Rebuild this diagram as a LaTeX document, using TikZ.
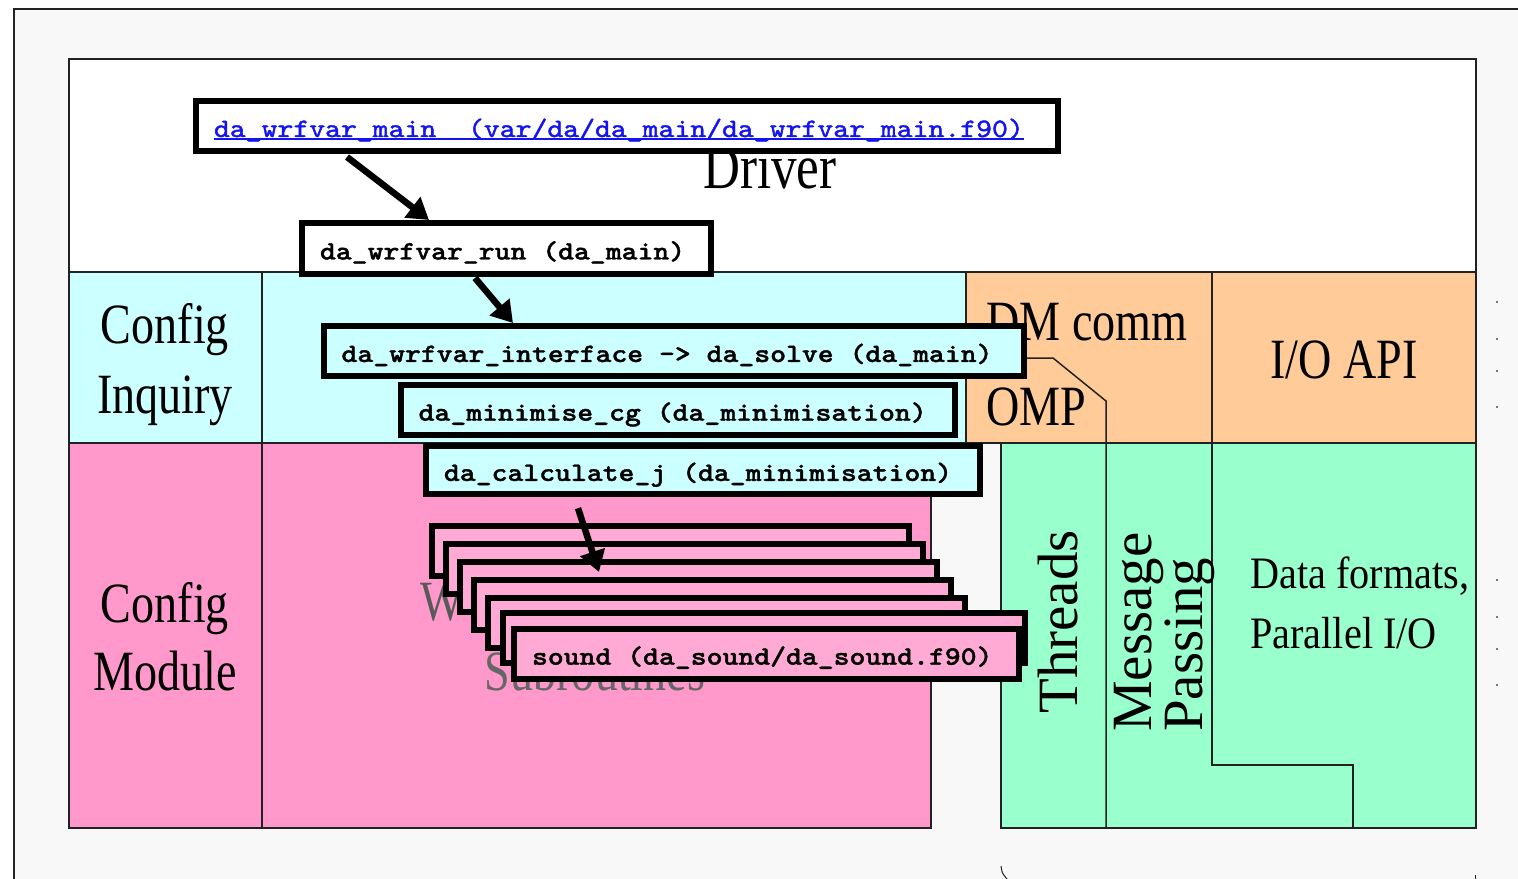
\documentclass[tikz,border=0pt]{standalone}
\usepackage{fontspec}
\usepackage{graphicx}
\setmainfont{Liberation Serif}
\newfontfamily\codefam{lmmonolt10-bold.otf}[FakeBold=1.2]
\newfontfamily\linkfam{lmmono10-regular.otf}[FakeBold=1.5]
\usetikzlibrary{arrows.meta,calc}
\definecolor{bgc}{HTML}{F8F8F8}
\definecolor{cyanc}{HTML}{CCFFFF}
\definecolor{orangec}{HTML}{FFCC99}
\definecolor{pinkc}{HTML}{FF99CC}
\definecolor{greenc}{HTML}{99FFCC}
\definecolor{stackc}{HTML}{FFAAD5}
\definecolor{linkc}{HTML}{1414F0}
\definecolor{linec}{HTML}{222222}
\newcommand{\msp}{\hspace*{0.525em}}
\newcommand{\codetext}[1]{\scalebox{1.14}[1]{\fontsize{15.1}{18}\selectfont\codefam #1}}
\newcommand{\linktext}[1]{\sbox0{\scalebox{1.14}[1]{\fontsize{15.1}{18}\selectfont\linkfam #1}}\rlap{\rule[-0.065cm]{\wd0}{0.04cm}}\usebox0}
\tikzset{
  region/.style={draw=linec, line width=0.03cm},
  lbl/.style={font=\fontsize{32.4}{39.8}\selectfont, xscale=0.81, inner sep=0, align=center},
  rlbl/.style={font=\fontsize{32.4}{28.5}\selectfont, rotate=90, inner sep=0, align=left},
  codebox/.style={draw=black, line width=0.12cm, anchor=north west, inner xsep=0.36cm, inner ysep=0,
    align=left, text height=0.48cm, text depth=0.04cm, minimum height=1cm},
  stackbox/.style={codebox, fill=stackc, minimum width=9.54cm},
  arr/.style={line width=0.13cm, -{Triangle[length=0.42cm, width=0.5cm]}}
}
\begin{document}
\begin{tikzpicture}[x=0.02cm, y=-0.02cm]
\useasboundingbox (0,0) rectangle (1518,879);
\fill[white] (0,0) rectangle (1518,879);
\fill[bgc] (14,9) rectangle (1518,879);
\draw[linec, line width=0.03cm] (14,879) -- (14,9) -- (1518,9);
% regions
\draw[region, line width=0.04cm, fill=white] (69,59) rectangle (1476,272);
\draw[region, fill=cyanc] (69,272) rectangle (262,443);
\draw[region, fill=cyanc] (262,272) rectangle (966,443);
\draw[region, fill=orangec] (966,272) rectangle (1212,443);
\draw[region, fill=orangec] (1212,272) rectangle (1476,443);
\draw[region, fill=pinkc] (69,443) rectangle (262,828);
\draw[region, fill=pinkc] (262,443) rectangle (931,828);
\draw[region, fill=greenc] (1001,443) rectangle (1476,828);
\draw[region] (1020,358) -- (1053,358) -- (1106,401) -- (1106,828);
\draw[region] (1212,443) -- (1212,765) -- (1353,765) -- (1353,828);
% labels
\node[lbl, font=\fontsize{35.9}{40}\selectfont, anchor=base] (drv) at (770,188) {Driver};
\node[lbl, anchor=base] (cfgi) at (165,413) {Config\\Inquiry};
\node[lbl, font=\fontsize{32.4}{38.7}\selectfont, anchor=base] (cfgm) at (165,690) {Config\\Module};
\node[lbl, anchor=base west] (dm) at (986,340) {DM comm};
\node[lbl, anchor=base west] (omp) at (986,425) {OMP};
\node[lbl, anchor=base] (io) at (1344,378) {I/O API};
\node[lbl, anchor=base west, text=black!65] (wl) at (420,620) {W};
\node[lbl, anchor=base, text=black!60] (subr) at (595,690) {Subroutines};
\node[rlbl, anchor=base] (thr) at (1077,622) {Threads};
\node[rlbl, anchor=base west] (msg) at (1202,732) {Message\\Passing};
\node[lbl, font=\fontsize{25.6}{34.1}\selectfont, xscale=1.104, align=left, anchor=base west] (data) at (1250,648) {Data formats,\\Parallel I/O};
% code boxes
\node[codebox, fill=white, minimum width=17.24cm, text width=16.52cm] (top) at (193,98)
  {\textcolor{linkc}{\linktext{da\_wrfvar\_main\msp\msp(var/da/da\_main/da\_wrfvar\_main.f90)}}};
\node[codebox, fill=white, minimum width=8.18cm, text width=7.46cm, minimum height=1.02cm] (run) at (299,220)
  {\codetext{da\_wrfvar\_run\msp(da\_main)}};
\node[codebox, fill=cyanc, minimum width=14.01cm, text width=13.29cm] (iface) at (320.5,323)
  {\codetext{da\_wrfvar\_interface\msp->\msp da\_solve\msp(da\_main)}};
\node[codebox, fill=cyanc, minimum width=11.09cm, text width=10.37cm] (mincg) at (397.6,381.7)
  {\codetext{da\_minimise\_cg\msp(da\_minimisation)}};
\node[codebox, fill=cyanc, minimum width=11.08cm, text width=10.36cm, minimum height=0.97cm] (calcj) at (423,442.7)
  {\codetext{da\_calculate\_j\msp(da\_minimisation)}};
\node[stackbox] (s1) at (429,523) {};
\node[stackbox] (s2) at (443,541) {};
\node[stackbox] (s3) at (457,559) {};
\node[stackbox] (s4) at (471,577) {};
\node[stackbox] (s5) at (485,595) {};
\node[stackbox, minimum width=10.45cm] (s6) at (499.5,610) {};
\node[codebox, fill=stackc, minimum width=10.1cm, text width=9.38cm] (sound) at (511,625.7)
  {\codetext{sound\msp(da\_sound/da\_sound.f90)}};
% arrows
\draw[arr] ($(top.south west)+(154,3)$) -- ($(run.north west)+(130,0)$);
\draw[arr] ($(run.south west)+(176,1)$) -- ($(iface.north west)+(192.5,0)$);
\draw[arr] ($(calcj.south west)+(155,11)$) -- ($(s3.north west)+(142,13)$);
% right-edge dots and bottom marks
\foreach \yy in {302,339,371,407,580,617,649,685} \fill[black!70] (1497,\yy) circle (0.022cm);
\draw[linec, line width=0.02cm] (1001,866) .. controls (1002,873) .. (1007,879);
\draw[linec, line width=0.02cm] (1475,875) -- (1475,879);
\end{tikzpicture}
\end{document}
